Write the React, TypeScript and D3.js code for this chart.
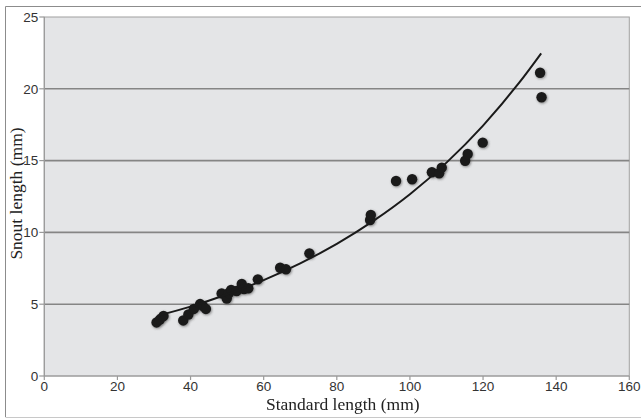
import React from "react";
import * as d3 from "d3";

// Observed data (standard length mm, snout length mm)
const standardLength = [
  30.7, 31.6, 32.6, 38.0, 39.4, 40.9, 42.6, 43.4, 44.2, 48.5, 49.9, 50.5, 51.1,
  52.6, 54.0, 54.6, 55.8, 58.4, 64.5, 66.1, 72.5, 89.1, 89.3, 96.2, 100.6,
  106.0, 108.0, 108.7, 115.1, 115.8, 119.9, 135.6, 136.0,
];
const snoutLength = [
  3.73, 3.93, 4.18, 3.87, 4.28, 4.67, 5.01, 4.87, 4.67, 5.75, 5.4, 5.78, 5.99,
  5.92, 6.41, 6.06, 6.11, 6.73, 7.54, 7.43, 8.54, 10.86, 11.21, 13.58, 13.7,
  14.19, 14.12, 14.51, 14.99, 15.46, 16.25, 21.12, 19.41,
];

// Trend curve
const trendX = [31, 40, 50, 60, 70, 80, 90, 100, 110, 120, 130, 135.9];
const trendY = [4.2, 4.83, 5.69, 6.68, 7.84, 9.2, 10.8, 12.66, 14.86, 17.44, 20.46, 22.47];

const xTicks = [0, 20, 40, 60, 80, 100, 120, 140, 160];
const yTicks = [0, 5, 10, 15, 20, 25];

const W = 641;
const H = 419;
const L = 44.3;
const R = 629.3;
const T = 17;
const B = 376;

export default function App() {
  const x = d3.scaleLinear().domain([0, 160]).range([L, R]);
  const y = d3.scaleLinear().domain([0, 25]).range([B, T]);
  const pts = standardLength.map((v, i) => [v, snoutLength[i]] as [number, number]);
  const trend = trendX.map((v, i) => [v, trendY[i]] as [number, number]);
  const line = d3
    .line<[number, number]>()
    .x((d) => x(d[0]))
    .y((d) => y(d[1]))
    .curve(d3.curveMonotoneX);
  const sans = "'Liberation Sans', Arial, sans-serif";
  const serif = "'Liberation Serif', 'Times New Roman', serif";
  return (
    <svg
      width={W}
      height={H}
      style={{ position: "absolute", left: 0, top: 0, background: "#fff" }}
    >
      <defs>
        <filter id="blur" x="-50%" y="-50%" width="200%" height="200%">
          <feGaussianBlur stdDeviation="0.9" />
        </filter>
      </defs>
      {/* outer frame */}
      <line x1={5.5} y1={6.5} x2={W} y2={6.5} stroke="#8c8c8c" strokeWidth={1} />
      <line x1={5.5} y1={6.5} x2={5.5} y2={417} stroke="#8c8c8c" strokeWidth={1} />
      <line x1={5.5} y1={417.5} x2={W} y2={417.5} stroke="#c8c8c8" strokeWidth={1} />
      {/* plot area */}
      <rect x={L} y={T} width={R - L} height={B - T} fill="#e4e5e7" stroke="#a0a0a0" strokeWidth={1} />
      {yTicks.filter((t) => t > 0 && t < 25).map((t) => (
        <line key={t} x1={L} x2={R} y1={y(t)} y2={y(t)} stroke="#858585" strokeWidth={1.6} />
      ))}
      {/* axes */}
      <line x1={L} x2={L} y1={T} y2={B} stroke="#9a9a9a" strokeWidth={1.2} />
      <line x1={L} x2={R} y1={B} y2={B} stroke="#9a9a9a" strokeWidth={1.2} />
      {yTicks.map((t) => (
        <g key={t}>
          <line x1={L - 5} x2={L} y1={y(t)} y2={y(t)} stroke="#9a9a9a" strokeWidth={1.2} />
          <text x={L - 6} y={y(t)} dy="0.36em" textAnchor="end" fontFamily={sans} fontSize={13.5} fill="#333">
            {t}
          </text>
        </g>
      ))}
      {xTicks.map((t) => (
        <g key={t}>
          <line x1={x(t)} x2={x(t)} y1={B} y2={B + 4} stroke="#9a9a9a" strokeWidth={1.2} />
          <text x={x(t)} y={391} textAnchor="middle" fontFamily={sans} fontSize={13.5} fill="#333">
            {t}
          </text>
        </g>
      ))}
      {/* points */}
      <g filter="url(#blur)">
        {pts.map((d, i) => (
          <circle key={i} cx={x(d[0]) + 0.8} cy={y(d[1]) + 1} r={5.4} fill="#555" opacity={0.6} />
        ))}
      </g>
      {pts.map((d, i) => (
        <circle key={"p" + i} cx={x(d[0])} cy={y(d[1])} r={5.2} fill="#1a1a1a" />
      ))}
      <path d={line(trend) || ""} fill="none" stroke="#1a1a1a" strokeWidth={2} />
      {/* titles */}
      <text x={(L + R) / 2 + 6} y={410} textAnchor="middle" fontFamily={serif} fontSize={17.5} fill="#222">
        Standard length (mm)
      </text>
      <text
        transform={`translate(22, ${(T + B) / 2 - 3}) rotate(-90)`}
        textAnchor="middle"
        fontFamily={serif}
        fontSize={17.5}
        fill="#222"
      >
        Snout length (mm)
      </text>
    </svg>
  );
}
